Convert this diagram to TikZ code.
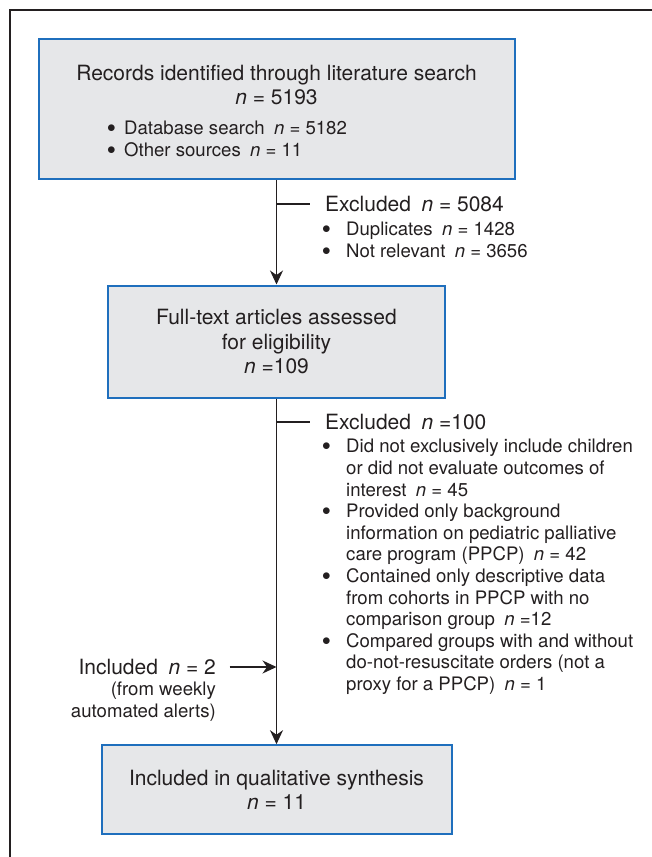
\documentclass[tikz,border=0pt]{standalone}
\usepackage{fontspec}
\setmainfont{TeX Gyre Heros}
\usetikzlibrary{arrows.meta}
\definecolor{boxfill}{RGB}{230,231,233}
\definecolor{boxline}{RGB}{31,111,189}
\definecolor{ink}{RGB}{35,31,32}
\newcommand{\bul}[1][24pt]{\makebox[#1][l]{\raisebox{2pt}{$\bullet$}}}
\newcommand{\ind}{\hspace*{24pt}}
\newcommand{\nn}{\textit{n}}
\begin{document}
\begin{tikzpicture}[x=1pt, y=-1pt,
        flowbox/.style={draw=boxline, line width=2pt, fill=boxfill},
        big/.style={font=\fontsize{21}{24.5}\selectfont, text=ink, inner sep=0pt},
        small/.style={font=\fontsize{18.6}{21.6}\selectfont, text=ink, inner sep=0pt},
        flow/.style={draw=ink, line width=1.2pt, -{Stealth[length=14pt, width=13pt, inset=4.5pt]}},
        tick/.style={draw=ink, line width=2pt}]
        \useasboundingbox (0,0) rectangle (652,857);
        \draw[ink, line width=2pt] (652,10) -| (10,857);
        \node[flowbox, minimum width=476pt, minimum height=140pt] (recs) at (276.5,109) {};
        \node[big, align=center] (recst) at (276.5,85) {Records identified through literature search\\\nn{} = 5193};
        \node[small, align=left, anchor=west] (recsl) at (107,139) {\bul[17pt]Database search\enspace\nn{} = 5182\\\bul[17pt]Other sources\enspace\nn{} = 11};
        \node[flowbox, big, align=center, minimum width=337pt, minimum height=112pt] (full) at (276.5,341.5) {Full-text articles assessed\\for eligibility\\\nn{} =109};
        \node[flowbox, big, align=center, minimum width=350pt, minimum height=89pt] (synth) at (276.5,789.7) {Included in qualitative synthesis\\\nn{} = 11};
        \node[big, anchor=west] (excl1) at (325,204) {Excluded\enspace\nn{} = 5084};
        \node[small, align=left, anchor=west] (excl1l) at (322,240) {\bul Duplicates\enspace\nn{} = 1428\\\bul Not relevant\enspace\nn{} = 3656};
        \node[big, anchor=west] (excl2) at (325,421.7) {Excluded\enspace\nn{} =100};
        \node[small, align=left, anchor=west] (excl2l) at (322,567) {\bul Did not exclusively include children\\
            \ind or did not evaluate outcomes of\\
            \ind interest\enspace\nn{} = 45\\
            \bul Provided only background\\
            \ind information on pediatric palliative\\
            \ind care program (PPCP)\enspace\nn{} = 42\\
            \bul Contained only descriptive data\\
            \ind from cohorts in PPCP with no\\
            \ind comparison group\enspace\nn{} =12\\
            \bul Compared groups with and without\\
            \ind do-not-resuscitate orders (not a\\
            \ind proxy for a PPCP)\enspace\nn{} = 1};
        \node[big, anchor=east] (incl) at (216,667) {Included\enspace\nn{} = 2};
        \node[small, align=right, anchor=east] (incll) at (216,701.5) {(from weekly\\automated alerts)};
        \draw[flow] (recs) -- (full);
        \draw[flow] (full) -- (synth);
        \draw[tick] (recs.south |- excl1.west) -- ([xshift=-15pt]excl1.west);
        \draw[tick] (full.south |- excl2.west) -- ([xshift=-15pt]excl2.west);
        \draw[flow] ([xshift=13.6pt]incl.east) -- (full.south |- incl.east);
    \end{tikzpicture}
\end{document}
